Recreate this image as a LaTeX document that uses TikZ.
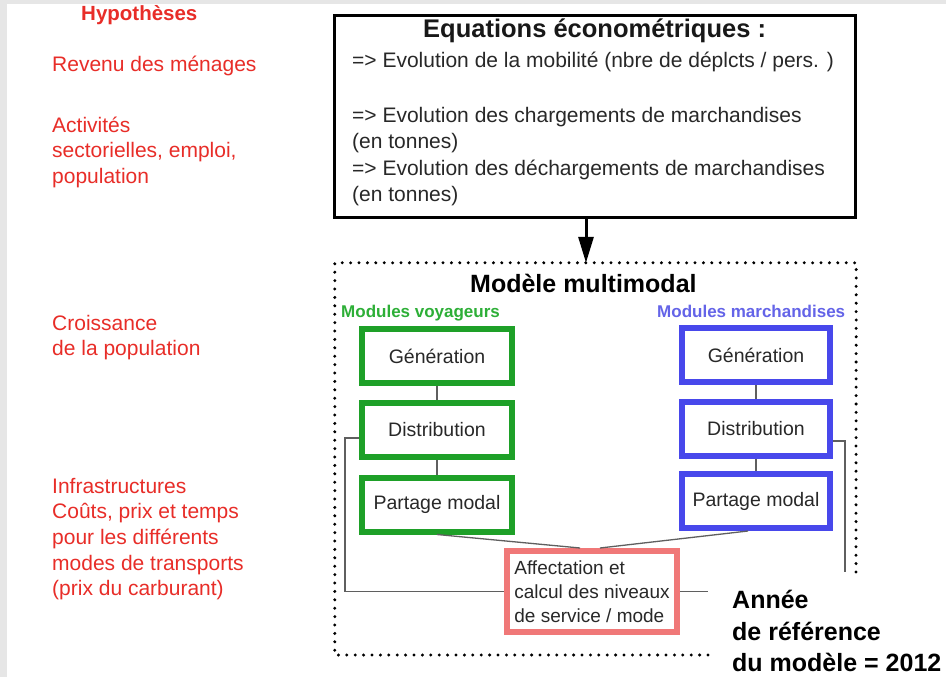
\documentclass[tikz,border=0pt]{standalone}
\usepackage{fontspec}
\setmainfont{Liberation Sans}
\usetikzlibrary{arrows.meta}
\definecolor{hypred}{RGB}{232,45,40}
\definecolor{vgreen}{RGB}{30,160,40}
\definecolor{vgreentxt}{RGB}{45,175,55}
\definecolor{mblue}{RGB}{72,72,235}
\definecolor{mbluetxt}{RGB}{100,100,232}
\definecolor{pinkbox}{RGB}{240,120,120}
\definecolor{txtgray}{RGB}{40,40,40}
\definecolor{congray}{RGB}{95,95,95}
\definecolor{framegray}{RGB}{230,230,230}
\newcommand{\fsz}[2]{\fontsize{#1}{#2}\selectfont}
\tikzset{
  redtxt/.style={anchor=base west, inner sep=0pt, text=hypred, font=\fsz{21}{25.7}},
  eqtxt/.style={anchor=base west, inner sep=0pt, text=txtgray, font=\fsz{21}{26}},
  greenbox/.style={draw=vgreen, line width=6pt, minimum width=150pt, minimum height=54pt, inner sep=0pt, text=txtgray, font=\fsz{19.5}{24}},
  bluebox/.style={draw=mblue, line width=6pt, minimum width=148pt, minimum height=54pt, inner sep=0pt, text=txtgray, font=\fsz{19.5}{24}},
  conn/.style={draw=congray, line width=1.3pt},
  bigtxt/.style={anchor=base west, inner sep=0pt, text=black, font=\bfseries\fsz{25}{31}},
  dotframe/.style={draw=black, line width=3.3pt, dash pattern=on 0pt off 8.4pt, line cap=round},
}
\begin{document}
\begin{tikzpicture}[x=1pt,y=-1pt]
% background and frame
\fill[framegray] (0,0) rectangle (946,677);
\fill[white] (7,4) rectangle (946,677);
\useasboundingbox (0,0) rectangle (946,677);

% hypotheses (left column)
\node[anchor=base west, inner sep=0pt, text=hypred, font=\bfseries\fsz{20.5}{24}] (hyp) at (81,21) {Hypothèses};
\node[redtxt] (h1) at (52,72) {Revenu des ménages};
\node[redtxt] (h2a) at (52,132) {Activités};
\node[redtxt] (h2b) at (52,157.7) {sectorielles, emploi,};
\node[redtxt] (h2c) at (52,183.4) {population};
\node[redtxt] (h3a) at (52,330) {Croissance};
\node[redtxt] (h3b) at (52,355.7) {de la population};
\node[redtxt] (h4a) at (52,493) {Infrastructures};
\node[redtxt] (h4b) at (52,518.7) {Coûts, prix et temps};
\node[redtxt] (h4c) at (52,544.4) {pour les différents};
\node[redtxt] (h4d) at (52,570.1) {modes de transports};
\node[redtxt] (h4e) at (52,595.8) {(prix du carburant)};

% econometric equations box
\node[draw=black, line width=3pt, minimum width=521pt, minimum height=202pt, inner sep=0pt] (eq) at (595,116.5) {};
\node[anchor=base west, inner sep=0pt, text=txtgray!60!black, font=\bfseries\fsz{25.5}{30}] (eqt) at (423,38) {Equations économétriques :};
\node[eqtxt] (e1) at (352,68) {=> Evolution de la mobilité (nbre de déplcts / pers. )};
\node[eqtxt] (e2) at (352,122) {=> Evolution des chargements de marchandises};
\node[eqtxt] (e3) at (352,148.5) {(en tonnes)};
\node[eqtxt] (e4) at (352,175) {=> Evolution des déchargements de marchandises};
\node[eqtxt] (e5) at (352,201.5) {(en tonnes)};

% multimodal model dotted frame (open at bottom right corner)
\node[minimum width=521pt, minimum height=392pt, inner sep=0pt] (mm) at (595.5,459) {};
\coordinate (fbend) at (708,655);
\coordinate (frend) at (856,572);
\draw[dotframe] (fbend) -- (fbend -| mm.west) -- (mm.north west) -- (mm.north east) -- (frend);
\node[anchor=base west, inner sep=0pt, text=black, font=\bfseries\fsz{25}{30}] (mmt) at (470,292) {Modèle multimodal};

% arrow
\draw[line width=3pt, -{Triangle[width=15pt,length=26pt]}] ([xshift=-9pt]eq.south) -- ([xshift=-9pt]eq.south |- mm.north);

% module labels
\node[anchor=base west, inner sep=0pt, text=vgreentxt, font=\bfseries\fsz{17}{20}] (mv) at (341,317) {Modules voyageurs};
\node[anchor=base west, inner sep=0pt, text=mbluetxt, font=\bfseries\fsz{17}{20}] (mmar) at (657,317) {Modules marchandises};

% green boxes
\node[greenbox] (gg) at (437,356) {Génération};
\node[greenbox] (gd) at (437,430) {Distribution};
\node[greenbox] (gp) at (437,504.5) {Partage modal};

% blue boxes
\node[bluebox] (bg) at (756,355) {Génération};
\node[bluebox] (bd) at (756,429) {Distribution};
\node[bluebox] (bp) at (756,501) {Partage modal};

% pink box
\node[draw=pinkbox, line width=6pt, minimum width=170pt, minimum height=81pt, inner sep=0pt, align=left, text=txtgray, font=\fsz{19}{24}] (pk) at (592,591.5) {Affectation et\\calcul des niveaux\\de service / mode};

% reference year
\node[bigtxt] (an1) at (732,608) {Année};
\node[bigtxt] (an2) at (732,640) {de référence};
\node[bigtxt] (an3) at (732,671) {du modèle = 2012};

% connectors
\draw[conn] (gg.south) -- (gd.north);
\draw[conn] (gd.south) -- (gp.north);
\draw[conn] (bg.south) -- (bd.north);
\draw[conn] (bd.south) -- (bp.north);
\draw[conn] (gp.south) -- ([xshift=-12pt]pk.north);
\draw[conn] ([xshift=-8pt]bp.south) -- ([xshift=8pt]pk.north);
\draw[conn] ([yshift=-8pt]gd.west) -- ++(-14,0) |- (pk.west);
\coordinate (rend) at (845,572);
\draw[conn] ([yshift=-12pt]bd.east) -| (rend);
\coordinate (aend) at (708,591.5);
\draw[conn] (pk.east) -- (aend);
\end{tikzpicture}
\end{document}
